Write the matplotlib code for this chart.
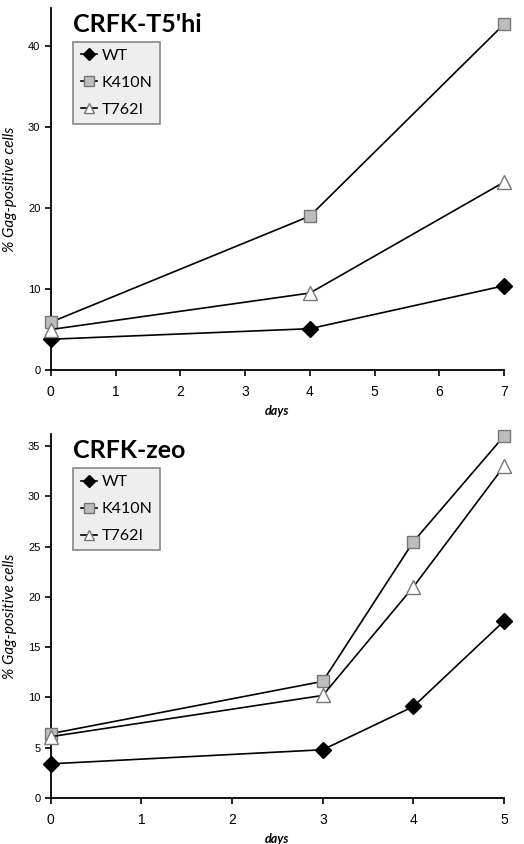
import matplotlib
matplotlib.use('Agg')
import matplotlib.pyplot as plt

plt.rcParams['font.family'] = ['Lato', 'DejaVu Sans']

# top panel: CRFK-T5'hi
days_top = [0, 4, 7]
wt_top = [3.8, 5.1, 10.4]
k410n_top = [5.9, 19.0, 42.7]
t762i_top = [5.0, 9.5, 23.2]

# bottom panel: CRFK-zeo
days_bot = [0, 3, 4, 5]
wt_bot = [3.4, 4.8, 9.1, 17.6]
k410n_bot = [6.4, 11.6, 25.5, 36.0]
t762i_bot = [6.1, 10.2, 21.0, 33.0]

series_names = ['WT', 'K410N', 'T762I']

fig = plt.figure(figsize=(5.24, 8.44), dpi=100)
ax1 = fig.add_axes([0.097, 0.5616, 0.865, 0.429])
ax2 = fig.add_axes([0.097, 0.0545, 0.865, 0.4313])

styles = [
    dict(marker='D', markersize=8, markerfacecolor='black', markeredgecolor='black'),
    dict(marker='s', markersize=9, markerfacecolor='#bdbdbd', markeredgecolor='#777777'),
    dict(marker='^', markersize=10, markerfacecolor='white', markeredgecolor='#777777'),
]

def panel(ax, x, ys, title, ylim, yticks, xticks):
    for y, st, nm in zip(ys, styles, series_names):
        ax.plot(x, y, color='black', lw=1.2, label=nm, clip_on=False, zorder=3, **st)
    ax.set_xlim(0, xticks[-1])
    ax.set_ylim(0, ylim)
    ax.set_xticks(xticks)
    ax.set_yticks(yticks)
    for s in ['top', 'right']:
        ax.spines[s].set_visible(False)
    ax.spines['left'].set_linewidth(1.3)
    ax.spines['bottom'].set_linewidth(1.3)
    ax.tick_params(axis='x', labelsize=10, length=4, width=1.2, pad=7)
    ax.tick_params(axis='y', labelsize=8, length=4, width=1.2)
    for lab in ax.get_xticklabels() + ax.get_yticklabels():
        lab.set_family('Liberation Sans')
    ax.set_xlabel('days', fontstyle='italic', fontweight='bold', fontsize=9, labelpad=4)
    ax.set_ylabel('% Gag-positive cells', fontstyle='italic', fontsize=11, labelpad=8)
    ax.text(0.048, 0.985, title, transform=ax.transAxes, fontsize=18,
            fontweight='bold', va='top', ha='left')
    leg = ax.legend(loc='upper left', bbox_to_anchor=(0.05, 0.907), fontsize=11.5,
                    frameon=True, fancybox=False, handlelength=1.0, handletextpad=0.3,
                    borderpad=0.45, labelspacing=0.8, markerscale=0.75,
                    borderaxespad=0.0)
    leg.get_frame().set_facecolor('#eeeeee')
    leg.get_frame().set_edgecolor('#888888')
    leg.get_frame().set_linewidth(1.2)
    leg.get_frame().set_alpha(1)

panel(ax1, days_top, [wt_top, k410n_top, t762i_top], "CRFK-T5'hi", 44.7,
      [0, 10, 20, 30, 40], [0, 1, 2, 3, 4, 5, 6, 7])
panel(ax2, days_bot, [wt_bot, k410n_bot, t762i_bot], 'CRFK-zeo', 36.2,
      [0, 5, 10, 15, 20, 25, 30, 35], [0, 1, 2, 3, 4, 5])

fig.savefig('out.png', dpi=100)
